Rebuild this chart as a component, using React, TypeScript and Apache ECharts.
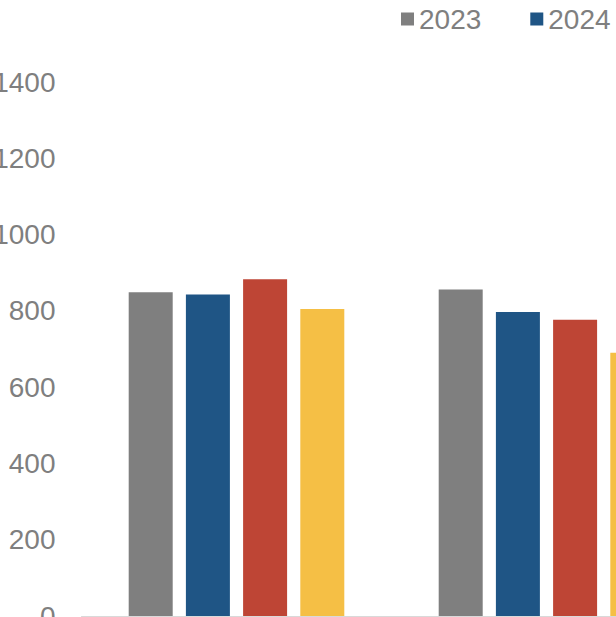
import React, { useEffect, useRef } from "react";
import * as echarts from "echarts";

const categories = ["Category 1", "Category 2"];
const seriesNames = ["2023", "2024", "2025", "2026"];
const values2023 = [849, 856];
const values2024 = [843, 797];
const values2025 = [883, 777];
const values2026 = [805, 690];
const yTicks = { min: 0, max: 1400, interval: 200 };

const colors = ["#7f7f7f", "#1f5585", "#be4535", "#f5bf45"];

export default function App() {
  const ref = useRef<HTMLDivElement>(null);
  useEffect(() => {
    if (!ref.current) return;
    const chart = echarts.init(ref.current, null, { renderer: "svg" });
    const allValues = [values2023, values2024, values2025, values2026];
    chart.setOption({
      animation: false,
      backgroundColor: "#ffffff",
      color: colors,
      textStyle: { fontFamily: "Liberation Sans, Arial, sans-serif" },
      legend: {
        left: 416,
        top: 0,
        icon: "rect",
        itemWidth: 13,
        itemHeight: 13,
        itemGap: 49,
        textStyle: { fontSize: 28, color: "#7f7f7f", fontFamily: "Liberation Sans, Arial, sans-serif" },
        data: seriesNames,
      },
      grid: { left: 101.5, top: 82, bottom: 84, right: 278.5, containLabel: false },
      xAxis: {
        type: "category",
        data: categories,
        axisLine: { show: true, lineStyle: { color: "#d9d9d9", width: 1 } },
        axisTick: { show: false },
        axisLabel: { fontSize: 28, color: "#7f7f7f", margin: 20 },
      },
      yAxis: {
        type: "value",
        min: yTicks.min,
        max: yTicks.max,
        interval: yTicks.interval,
        axisLine: { show: false },
        axisTick: { show: false },
        splitLine: { show: false },
        axisLabel: {
          fontSize: 28,
          color: "#7f7f7f",
          margin: 26,
          formatter: (v: number) => String(v),
        },
      },
      series: seriesNames.map((name, i) => ({
        name,
        type: "bar",
        data: allValues[i],
        barWidth: 44,
        barGap: "30%",
        itemStyle: { color: colors[i] },
      })),
    });
    return () => chart.dispose();
  }, []);
  return (
    <div style={{ position: "fixed", left: 0, top: 0, width: 616, height: 617, overflow: "hidden", background: "#fff" }}>
      <div ref={ref} style={{ position: "absolute", left: -20, top: 0, width: 1000, height: 700 }} />
    </div>
  );
}
